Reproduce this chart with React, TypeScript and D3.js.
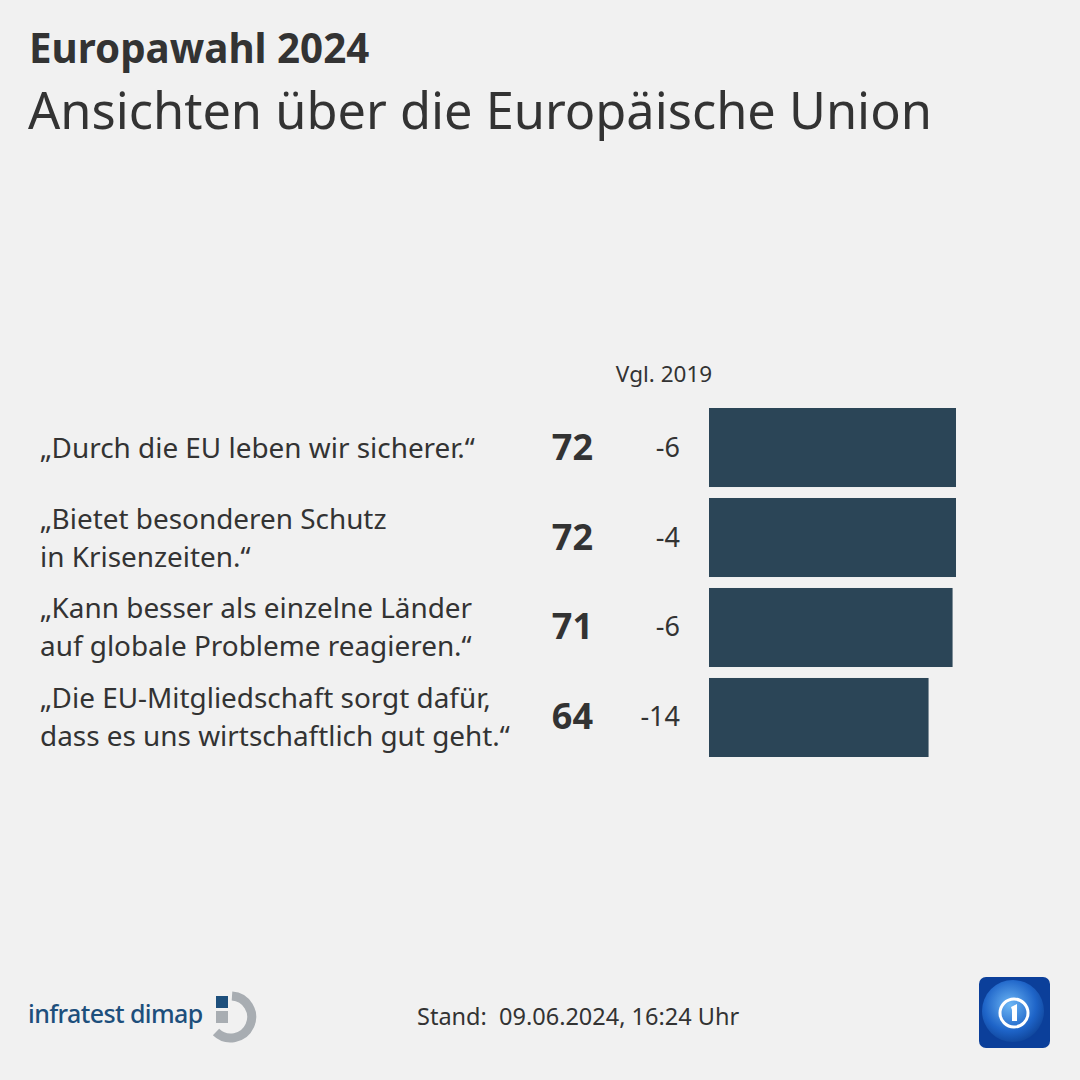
import React from "react";
import * as d3 from "d3";

const categories: string[][] = [
  ["„Durch die EU leben wir sicherer.“"],
  ["„Bietet besonderen Schutz", "in Krisenzeiten.“"],
  ["„Kann besser als einzelne Länder", "auf globale Probleme reagieren.“"],
  ["„Die EU-Mitgliedschaft sorgt dafür,", "dass es uns wirtschaftlich gut geht.“"],
];
const values2024: number[] = [72, 72, 71, 64];
const change2019: number[] = [-6, -4, -6, -14];

const FONT = "'Noto Sans', 'Open Sans', sans-serif";
const TEXT = "#333333";
const BAR = "#2b4557";

export default function App() {
  const W = 1080, H = 1080;
  const x = d3.scaleLinear().domain([0, 72]).range([709, 956]);
  const y = d3.scaleBand<number>().domain(d3.range(categories.length)).range([408, 757]).paddingInner(0.122).paddingOuter(0);

  return (
    <svg width={W} height={H} viewBox={`0 0 ${W} ${H}`} style={{ position: "absolute", left: 0, top: 0, background: "#f1f1f1" }}>
      <rect width={W} height={H} fill="#f1f1f1" />
      <text x={29} y={63} fontFamily={FONT} fontWeight={700} fontSize={40.3} fill={TEXT}>Europawahl 2024</text>
      <text x={28} y={129} fontFamily={FONT} fontWeight={400} fontSize={50.5} fill={TEXT}>Ansichten über die Europäische Union</text>

      <text x={664} y={382} textAnchor="middle" fontFamily={FONT} fontSize={22.5} fill={TEXT}>Vgl. 2019</text>

      {categories.map((lines, i) => {
        const by = y(i)!;
        const bh = y.bandwidth();
        const cy = by + bh / 2;
        const n = lines.length;
        return (
          <g key={i}>
            <rect x={x(0)} y={by} width={x(values2024[i]) - x(0)} height={bh} fill={BAR} />
            {lines.map((l, j) => (
              <text key={j} x={40} y={cy + (j - (n - 1) / 2) * 38 + 10} fontFamily={FONT} fontSize={27.9} fill={TEXT}>{l}</text>
            ))}
            <text x={593} y={cy + 12} textAnchor="end" fontFamily={FONT} fontWeight={700} fontSize={36} fill={TEXT}>{values2024[i]}</text>
            <text x={680} y={cy + 9} textAnchor="end" fontFamily={FONT} fontSize={27} fill={TEXT}>{change2019[i]}</text>
          </g>
        );
      })}

      <text x={28} y={1023} fontFamily={FONT} fontSize={25} fontWeight={500} fill="#1d4f7c" letterSpacing={-0.6}>infratest dimap</text>
      <g>
        <rect x={216} y={996} width={12} height={12} fill="#1d4f7c" />
        <path d="M232,996 A21,21 0 1 1 216,1032" fill="none" stroke="#a8adb2" strokeWidth={9} />
        <rect x={216} y={1011} width={12} height={12} fill="#a8adb2" />
      </g>

      <text x={417} y={1025} fontFamily={FONT} fontSize={23.5} fill={TEXT} style={{ whiteSpace: "pre" }}>{"Stand:  09.06.2024, 16:24 Uhr"}</text>

      <defs>
        <radialGradient id="globe" cx="0.45" cy="0.4" r="0.7">
          <stop offset="0" stopColor="#6cb6f5" />
          <stop offset="0.6" stopColor="#1e64c8" />
          <stop offset="1" stopColor="#0a3a8a" />
        </radialGradient>
      </defs>
      <rect x={979} y={977} width={71} height={71} rx={7} fill="#0b3f9a" />
      <circle cx={1013} cy={1011} r={31} fill="url(#globe)" />
      <circle cx={1014} cy={1013} r={14} fill="none" stroke="#ffffff" strokeWidth={3} />
      <path d="M1011,1007 L1017,1004 L1017,1021 L1012,1021 L1012,1010 Z" fill="#ffffff" />
    </svg>
  );
}
